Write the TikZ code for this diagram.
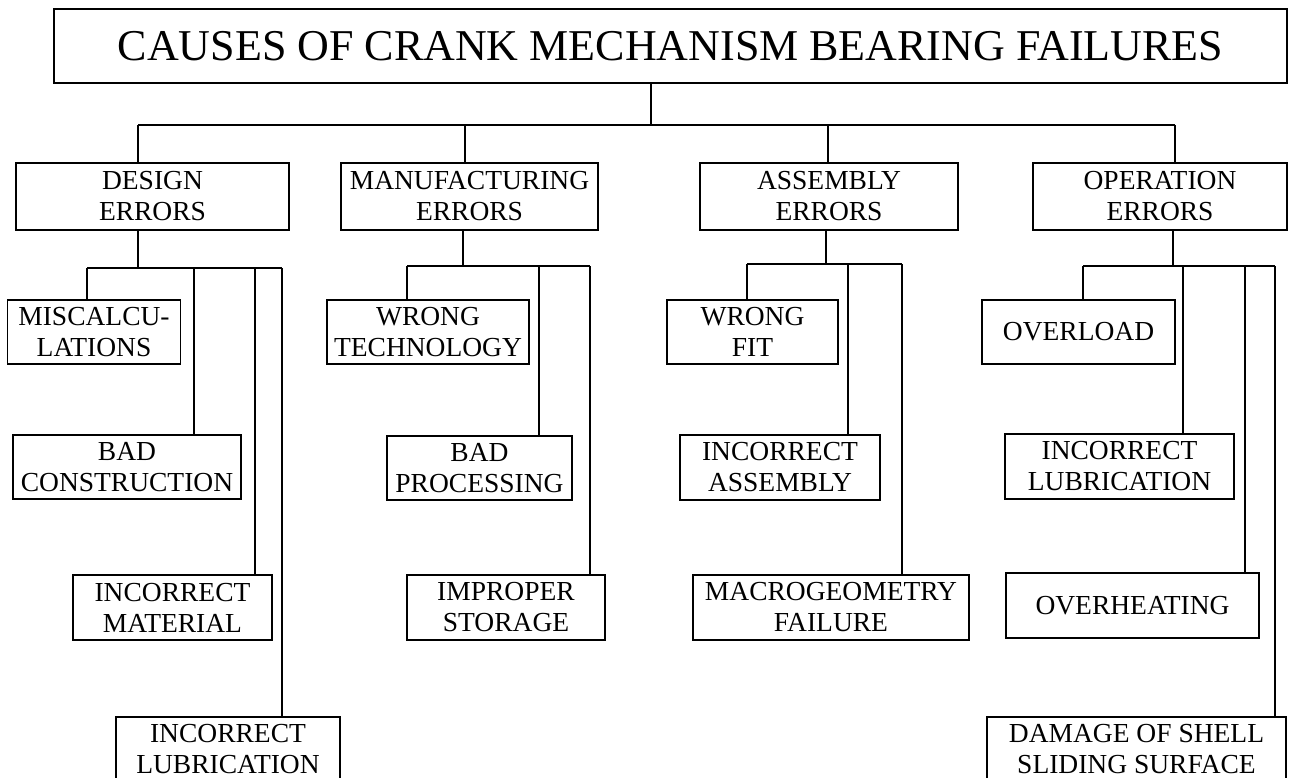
\documentclass[tikz,border=0pt]{standalone}
\usepackage{fontspec}
\setmainfont{Liberation Serif}
\usetikzlibrary{calc}

\begin{document}
\begin{tikzpicture}[x=1pt,y=-1pt,
			cause/.style={draw,line width=1.6pt,align=center,inner sep=0pt,
				font=\fontsize{27.5}{31}\selectfont},
			topbox/.style={draw,line width=1.6pt,inner sep=0pt,
				font=\fontsize{44}{48}\selectfont},
			link/.style={line width=1.4pt}]
			\useasboundingbox (0,0) rectangle (1289,778);
			
			% Title
			\node[topbox,minimum width=1233,minimum height=74] (title)
			at (670.5,46) {CAUSES OF CRANK MECHANISM BEARING FAILURES};
			
			% Main groups
			\node[cause,minimum width=273,minimum height=67] (design)
			at (152.5,196.5) {DESIGN\\ERRORS};
			\node[cause,minimum width=257,minimum height=67] (manuf)
			at (469.5,196.5) {MANUFACTURING\\ERRORS};
			\node[cause,minimum width=258,minimum height=67] (assem)
			at (829,196.5) {ASSEMBLY\\ERRORS};
			\node[cause,minimum width=254,minimum height=67] (oper)
			at (1160,196.5) {OPERATION\\ERRORS};
			
			% Title bus
			\coordinate (t0) at (651,125);
			\coordinate (t1) at (138,125);
			\coordinate (t4) at (1175,125);
			\draw[link] (title.south -| t0) -- (t0);
			\draw[link] (t1) -- (t4);
			\foreach \nd/\px in {design/138,manuf/465,assem/828,oper/1175} {
				\coordinate (\nd-in) at (\px,125);
				\draw[link] (\nd-in) -- (\nd-in |- \nd.north);
			}
			
			% Design errors
			\node[cause,minimum width=173,minimum height=64] (miscalc)
			at (94,332) {MISCALCU-\\LATIONS};
			\node[cause,minimum width=228,minimum height=64] (badcons)
			at (127,467) {BAD\\CONSTRUCTION};
			\node[cause,minimum width=199,minimum height=65] (incmat)
			at (172.5,607.5) {INCORRECT\\MATERIAL};
			\node[cause,minimum width=224,minimum height=65] (inclubd)
			at (228,749.5) {INCORRECT\\LUBRICATION};
			\coordinate (d0) at (138,268);
			\draw[link] (design.south -| d0) -- (d0);
			\draw[link] (87,268) -- (282,268);
			\foreach \nd/\px in {miscalc/87,badcons/194,incmat/255,inclubd/282} {
				\coordinate (\nd-in) at (\px,268);
				\draw[link] (\nd-in) -- (\nd-in |- \nd.north);
			}
			
			% Manufacturing errors
			\node[cause,minimum width=202,minimum height=64] (wrongtech)
			at (428,332) {WRONG\\TECHNOLOGY};
			\node[cause,minimum width=185,minimum height=64] (badproc)
			at (479.5,468) {BAD\\PROCESSING};
			\node[cause,minimum width=198,minimum height=65] (improper)
			at (506,607.5) {IMPROPER\\STORAGE};
			\coordinate (m0) at (463,266);
			\draw[link] (manuf.south -| m0) -- (m0);
			\draw[link] (407,266) -- (590,266);
			\foreach \nd/\px in {wrongtech/407,badproc/539,improper/590} {
				\coordinate (\nd-in) at (\px,266);
				\draw[link] (\nd-in) -- (\nd-in |- \nd.north);
			}
			
			% Assembly errors
			\node[cause,minimum width=171,minimum height=64] (wrongfit)
			at (752.5,332) {WRONG\\FIT};
			\node[cause,minimum width=200,minimum height=65] (incass)
			at (780,467.5) {INCORRECT\\ASSEMBLY};
			\node[cause,minimum width=276,minimum height=65] (macro)
			at (831,607.5) {MACROGEOMETRY\\FAILURE};
			\coordinate (a0) at (826,264);
			\draw[link] (assem.south -| a0) -- (a0);
			\draw[link] (747,264) -- (902,264);
			\foreach \nd/\px in {wrongfit/747,incass/848,macro/902} {
				\coordinate (\nd-in) at (\px,264);
				\draw[link] (\nd-in) -- (\nd-in |- \nd.north);
			}
			
			% Operation errors
			\node[cause,minimum width=193,minimum height=64] (overload)
			at (1078.5,332) {OVERLOAD};
			\node[cause,minimum width=229,minimum height=65] (inclubo)
			at (1119.5,466.5) {INCORRECT\\LUBRICATION};
			\node[cause,minimum width=253,minimum height=65] (overheat)
			at (1132.5,605.5) {OVERHEATING};
			\node[cause,minimum width=299,minimum height=65] (damage)
			at (1136.5,749.5) {DAMAGE OF SHELL\\SLIDING SURFACE};
			\coordinate (o0) at (1173,266);
			\draw[link] (oper.south -| o0) -- (o0);
			\draw[link] (1083,266) -- (1275,266);
			\foreach \nd/\px in {overload/1083,inclubo/1183,overheat/1245,damage/1275} {
				\coordinate (\nd-in) at (\px,266);
				\draw[link] (\nd-in) -- (\nd-in |- \nd.north);
			}
			
		\end{tikzpicture}
\end{document}
